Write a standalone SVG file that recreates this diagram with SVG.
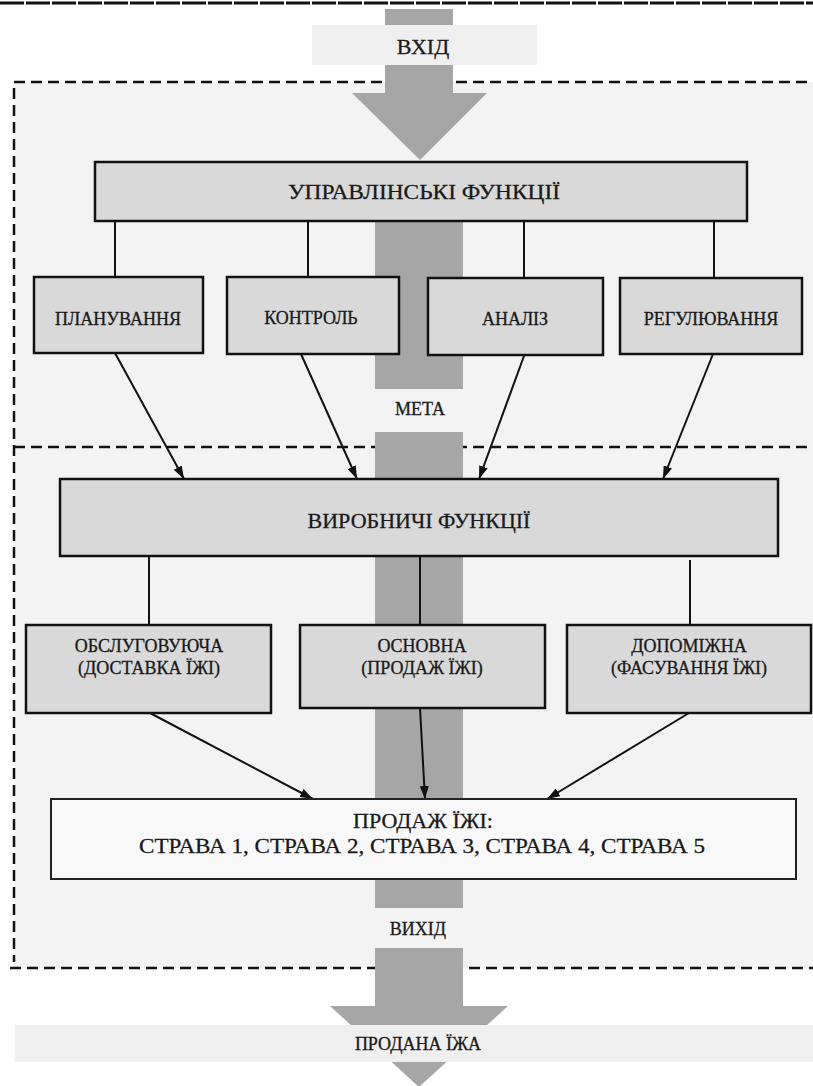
<svg xmlns="http://www.w3.org/2000/svg" width="813" height="1086" viewBox="0 0 813 1086">
<defs>
<style>
.box{fill:#d9d9d9;stroke:#111;stroke-width:2.5}
.box2{fill:#f8f8f8;stroke:#222;stroke-width:2}
.t{font-family:"Liberation Serif","Times New Roman",serif;fill:#1a1a1a;stroke:#1a1a1a;stroke-width:0.3;text-anchor:middle}
.big{font-size:22px}
.sm{font-size:18px}
.conn{stroke:#111;stroke-width:2;fill:none}
.arr{stroke:#111;stroke-width:2;fill:none;marker-end:url(#ah)}
.dash{stroke:#111;stroke-width:2.5;stroke-dasharray:11 6;fill:none}
.bar{fill:#a6a6a6}
.band{fill:#efefef}
</style>
<marker id="ah" markerUnits="userSpaceOnUse" markerWidth="13" markerHeight="9" viewBox="0 0 13 9" refX="13" refY="4.5" orient="auto">
<path d="M0,0 L13,4.5 L0,9 z" fill="#111"/>
</marker>
</defs>
<rect x="0" y="0" width="813" height="1086" fill="#ffffff"/>
<rect x="14" y="82" width="799" height="886" fill="#f3f3f3"/>
<g id="frame">
<line x1="0" y1="3" x2="813" y2="3" stroke="#111" stroke-width="3" stroke-dasharray="24 2"/>
<line class="dash" x1="14" y1="82" x2="813" y2="82"/>
<line class="dash" x1="14" y1="447" x2="813" y2="447"/>
<line class="dash" x1="10" y1="968" x2="813" y2="968"/>
<line class="dash" x1="14" y1="88" x2="14" y2="962"/>
</g>
<g id="flow">
<rect class="bar" x="385" y="9" width="68" height="84"/>
<polygon class="bar" points="352,93 487,93 420,160"/>
<rect class="bar" x="375" y="221" width="88" height="168"/>
<rect class="bar" x="375" y="432" width="88" height="476"/>
<rect class="bar" x="375" y="948" width="88" height="59"/>
<polygon class="bar" points="330,1006 508,1006 419,1087"/>
</g>
<g id="input">
<rect class="band" x="312" y="25" width="225" height="40"/>
<text class="t big" x="423" y="54">ВХІД</text>
</g>
<g id="connectors">
<line class="conn" x1="115" y1="221" x2="115" y2="277"/>
<line class="conn" x1="308" y1="221" x2="308" y2="277"/>
<line class="conn" x1="524" y1="221" x2="524" y2="278"/>
<line class="conn" x1="714" y1="221" x2="714" y2="278"/>
<line class="arr" x1="115" y1="353" x2="184" y2="479"/>
<line class="arr" x1="301" y1="354" x2="357" y2="479"/>
<line class="arr" x1="524" y1="356" x2="479" y2="479"/>
<line class="arr" x1="713" y1="354" x2="663" y2="479"/>
<line class="conn" x1="149" y1="556" x2="149" y2="625"/>
<line class="conn" x1="420" y1="556" x2="420" y2="625"/>
<line class="conn" x1="690" y1="560" x2="690" y2="625"/>
<line class="arr" x1="150" y1="713" x2="313" y2="799"/>
<line class="arr" x1="420" y1="708" x2="425" y2="799"/>
<line class="arr" x1="689" y1="713" x2="547" y2="799"/>
</g>
<g id="upr">
<rect class="box" x="95" y="162" width="652" height="59"/>
<text class="t big" x="424" y="199" textLength="272" lengthAdjust="spacingAndGlyphs">УПРАВЛІНСЬКІ ФУНКЦІЇ</text>
</g>
<g id="plan">
<rect class="box" x="34" y="277" width="169" height="76"/>
<text class="t sm" x="118" y="325">ПЛАНУВАННЯ</text>
</g>
<g id="kontrol">
<rect class="box" x="227" y="277" width="172" height="77"/>
<text class="t sm" x="311" y="324">КОНТРОЛЬ</text>
</g>
<g id="analiz">
<rect class="box" x="428" y="278" width="175" height="77"/>
<text class="t sm" x="515" y="325">АНАЛІЗ</text>
</g>
<g id="regul">
<rect class="box" x="620" y="278" width="182" height="76"/>
<text class="t sm" x="711" y="325">РЕГУЛЮВАННЯ</text>
</g>
<g id="meta">
<text class="t sm" x="420" y="415">МЕТА</text>
</g>
<g id="vyrob">
<rect class="box" x="60" y="479" width="718" height="77"/>
<text class="t big" x="419" y="528">ВИРОБНИЧІ ФУНКЦІЇ</text>
</g>
<g id="obsl">
<rect class="box" x="26" y="625" width="245" height="88"/>
<text class="t sm" x="149" y="652">ОБСЛУГОВУЮЧА</text>
<text class="t sm" x="149" y="674">(ДОСТАВКА ЇЖІ)</text>
</g>
<g id="osn">
<rect class="box" x="300" y="625" width="245" height="83"/>
<text class="t sm" x="422" y="652">ОСНОВНА</text>
<text class="t sm" x="422" y="674">(ПРОДАЖ ЇЖІ)</text>
</g>
<g id="dopom">
<rect class="box" x="567" y="625" width="244" height="88"/>
<text class="t sm" x="689" y="652">ДОПОМІЖНА</text>
<text class="t sm" x="689" y="674">(ФАСУВАННЯ ЇЖІ)</text>
</g>
<g id="prodazh">
<rect class="box2" x="51" y="799" width="745" height="80"/>
<text class="t big" x="423" y="828">ПРОДАЖ ЇЖІ:</text>
<text class="t big" x="422" y="853" textLength="566" lengthAdjust="spacingAndGlyphs">СТРАВА 1, СТРАВА 2, СТРАВА 3, СТРАВА 4, СТРАВА 5</text>
</g>
<g id="vyhid">
<text class="t sm" x="418" y="935">ВИХІД</text>
</g>
<g id="output">
<rect class="band" x="15" y="1025" width="798" height="37"/>
<text class="t sm" x="418" y="1050">ПРОДАНА ЇЖА</text>
</g>
</svg>
